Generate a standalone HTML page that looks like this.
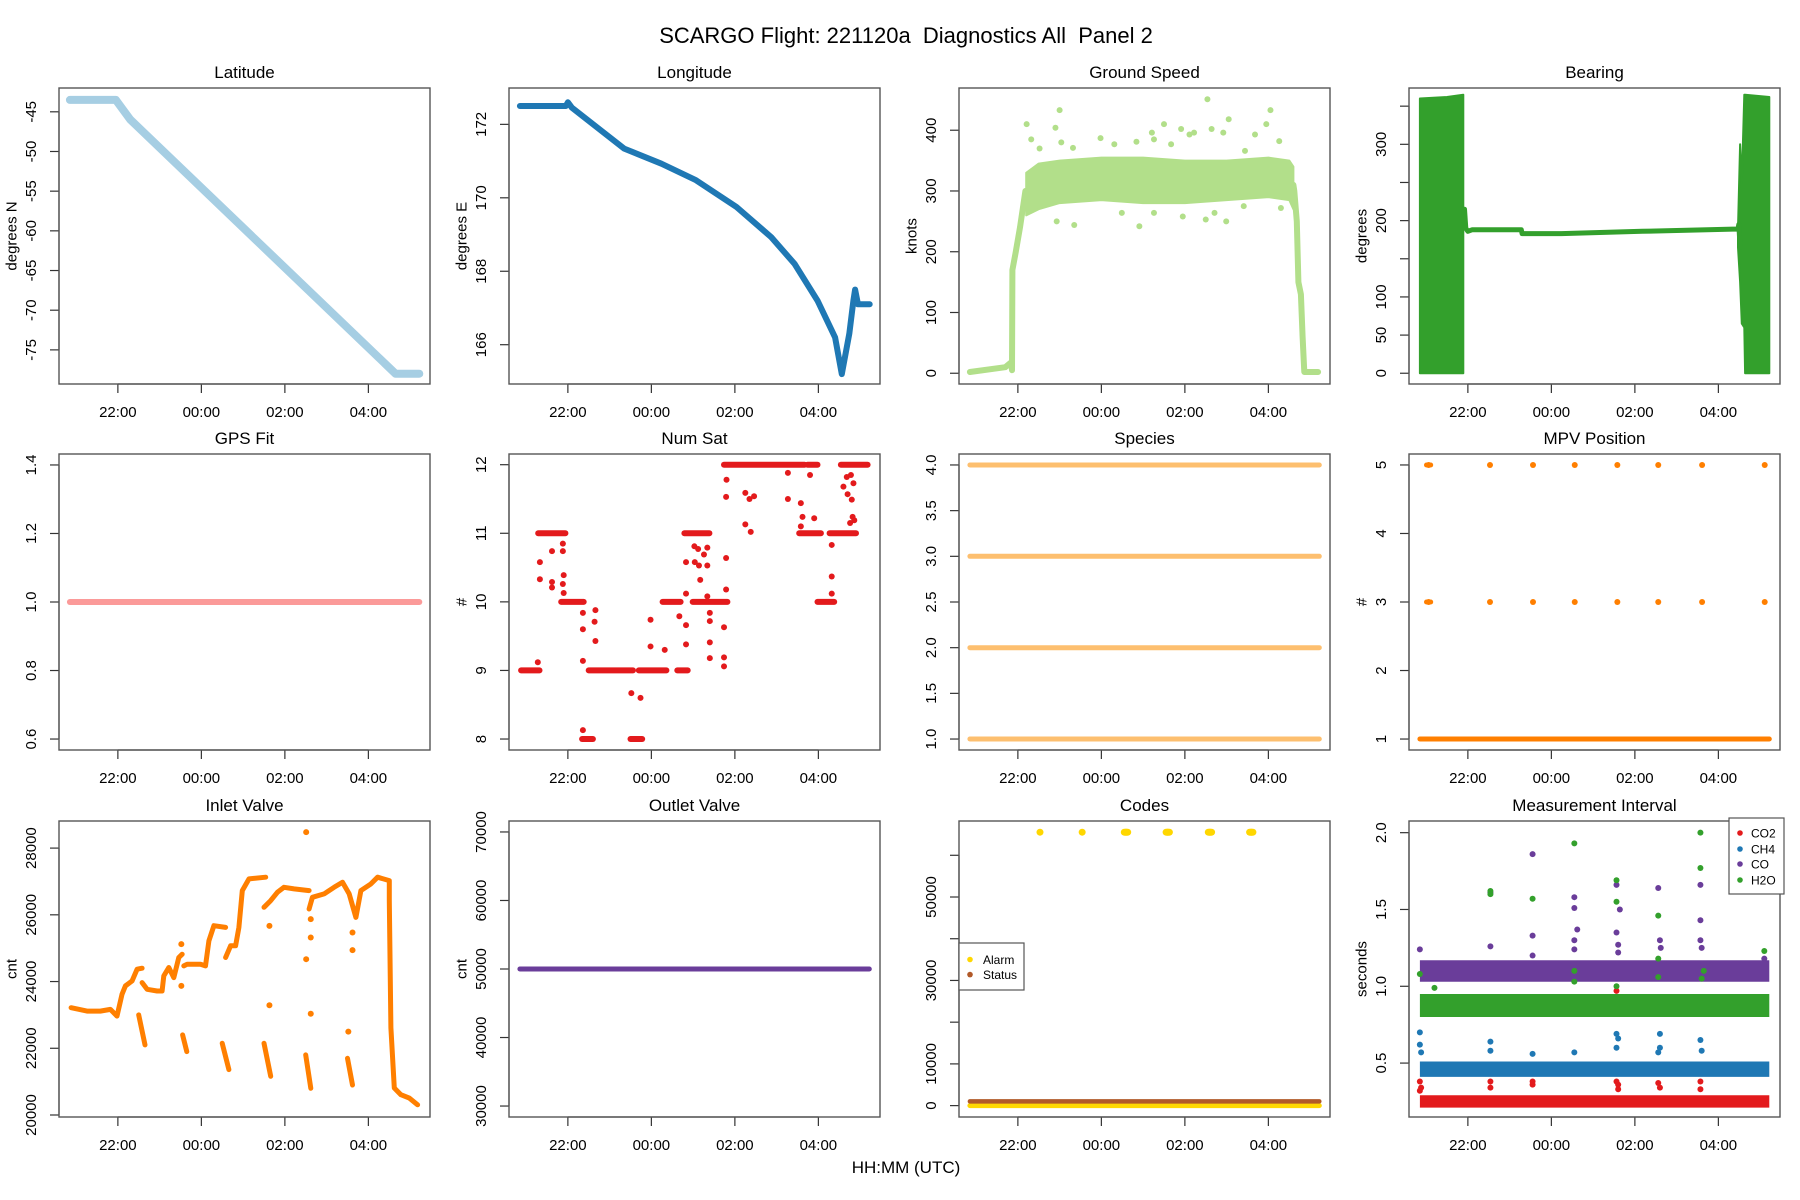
<!DOCTYPE html>
<html><head><meta charset="utf-8"><title>SCARGO Flight 221120a Diagnostics All Panel 2</title>
<style>
html,body{margin:0;padding:0;background:#fff;}
svg{display:block;font-family:"Liberation Sans",Arial,sans-serif;}
</style></head>
<body>
<svg id="chart" xmlns="http://www.w3.org/2000/svg" width="1800" height="1200" viewBox="0 0 1800 1200">
<rect width="1800" height="1200" fill="#fff"/>
<text x="906" y="43" font-size="22" text-anchor="middle" style="white-space:pre">SCARGO Flight: 221120a  Diagnostics All  Panel 2</text>
<text x="906" y="1173" font-size="17" text-anchor="middle">HH:MM (UTC)</text>
</svg>
<script>
// ---- shared time axis (hours relative to 00:00 UTC) ----
const timeTicks = [-2, 0, 2, 4];
const timeTickLabels = ["22:00", "00:00", "02:00", "04:00"];

// ---- Latitude ----
const latT = [-3.15, -2.05, -1.7, 4.65, 5.22];
const latV = [-43.5, -43.5, -46, -78, -78];
// ---- Longitude ----
const lonT = [-3.15, -2.05, -2.0, -1.9, -0.65, 0.24, 1.07, 2.04, 2.87, 3.43, 3.98, 4.40, 4.56, 4.74, 4.84, 4.88, 4.95, 5.23];
const lonV = [172.5, 172.5, 172.6, 172.45, 171.34, 170.93, 170.48, 169.75, 168.93, 168.2, 167.2, 166.2, 165.2, 166.3, 167.2, 167.5, 167.1, 167.1];
// ---- Ground speed ----
const gsLineT = [-3.15, -2.3, -2.16, -2.14, -2.13, -2.05, -1.95, -1.82];
const gsLineV = [2, 10, 18, 5, 170, 200, 240, 300];
const gsEndT = [4.6, 4.62, 4.68, 4.72, 4.78, 4.82, 4.86, 5.19];
const gsEndV = [310, 300, 250, 150, 130, 60, 2, 2];
const gsBandT = [-1.8, -1.5, -1, 0, 1, 2, 3, 4, 4.5, 4.6];
const gsBandLo = [260, 270, 280, 285, 280, 280, 285, 290, 285, 270];
const gsBandHi = [330, 345, 350, 355, 355, 350, 350, 355, 350, 340];
const gsOutT = [-1.79, -1.68, -1.48, -1.10, -1.0, -0.96, -0.68, -0.02, 0.31, 0.84, 1.21, 1.26, 1.50, 1.67, 1.91, 2.11, 2.22, 2.54, 2.64, 2.92, 3.05, 3.44, 3.68, 3.95, 4.05, 4.26, -1.07, -0.65, 0.49, 0.91, 1.26, 1.95, 2.50, 2.71, 2.99, 3.41, 4.30];
const gsOutV = [410, 385, 370, 404, 433, 380, 371, 387, 377, 381, 396, 385, 410, 377, 402, 393, 396, 451, 402, 396, 418, 366, 393, 410, 433, 382, 250, 244, 264, 242, 264, 258, 253, 264, 250, 275, 272];
// ---- Bearing ----
const brNoiseT = [-3.15, -2.5, -2.11];
const brNoiseLo = [0, 0, 0];
const brNoiseHi = [360, 362, 365];
const brNoise2T = [4.47, 4.52, 4.56, 4.62, 4.64, 5.22];
const brNoise2Lo = [165, 120, 65, 60, 0, 0];
const brNoise2Hi = [190, 300, 250, 365, 365, 362];
const brLineT = [-2.11, -2.08, -2.05, -2.0, -1.9, -0.72, -0.70, 0.24, 2.18, 4.47, 4.49, 4.52];
const brLineV = [200, 215, 190, 186, 188, 188, 183, 183, 186, 189, 195, 165];
// ---- GPS fit ----
const gpsT = [-3.15, 5.22];
const gpsV = [1.0, 1.0];
// ---- Num Sat ----
const nsStart = [-3.12, -2.71, -2.16, -1.66, -1.50, -0.50, -0.30, 0.27, 0.62, 0.79, 0.99, 1.74, 3.54, 3.74, 3.98, 4.27, 4.54];
const nsEnd = [-2.68, -2.06, -1.62, -1.40, -0.44, -0.22, 0.36, 0.70, 0.87, 1.39, 1.82, 3.67, 4.06, 3.98, 4.38, 4.90, 5.18];
const nsVal = [9, 11, 10, 8, 9, 8, 9, 10, 9, 11, 10, 12, 11, 12, 10, 11, 12];
const nsPtT = [-2.72, -2.67, -2.67, -2.38, -2.38, -2.38, -2.12, -2.12, -2.10, -2.12, -2.10, -1.64, -1.64, -1.64, -1.64, -1.34, -1.36, -1.34, -0.48, -0.26, -0.02, -0.02, 0.32, 0.67, 0.83, 0.83, 0.83, 0.83, 1.03, 1.12, 1.04, 1.14, 1.17, 1.26, 1.34, 1.34, 1.34, 1.40, 1.40, 1.40, 1.40, 1.74, 1.74, 1.74, 1.79, 1.79, 1.79, 1.80, 2.25, 2.35, 2.46, 2.25, 2.38, 3.27, 3.27, 3.58, 3.62, 3.58, 3.80, 3.90, 4.32, 4.32, 4.32, 4.60, 4.70, 4.68, 4.78, 4.84, 4.80, 4.82, 4.86, 4.76];
const nsPtV = [9.12, 10.58, 10.33, 10.74, 10.29, 10.21, 10.85, 10.74, 10.39, 10.26, 10.13, 9.84, 9.6, 9.14, 8.13, 9.88, 9.71, 9.43, 8.67, 8.6, 9.74, 9.35, 9.3, 9.79, 10.58, 10.12, 9.66, 9.38, 10.81, 10.77, 10.58, 10.53, 10.32, 10.69, 10.79, 10.53, 10.08, 9.84, 9.72, 9.41, 9.18, 9.63, 9.19, 9.06, 10.18, 10.64, 11.53, 11.78, 11.59, 11.5, 11.54, 11.13, 11.02, 11.88, 11.5, 11.44, 11.24, 11.1, 11.85, 11.22, 10.83, 10.37, 10.12, 11.68, 11.57, 11.82, 11.85, 11.73, 11.49, 11.24, 11.19, 11.15];
// ---- Species ----
const speciesVals = [1, 2, 3, 4];
// ---- MPV position ----
const mpvT = [-2.94, -1.47, -0.44, 0.56, 1.58, 2.56, 3.61, 5.11];
const mpvHigh = [5, 3];
const mpvBase = 1;
// ---- Inlet valve ----
const inT = [-3.12, -2.74, -2.42, -2.18, -2.02, -1.90, -1.82, -1.66, -1.54, -1.42, null, -1.42, -1.30, -1.06, -0.94, -0.90, -0.78, -0.66, -0.54, -0.46, null, -0.42, -0.34, -0.02, 0.10, 0.18, 0.30, 0.58, null, 0.58, 0.70, 0.82, 0.90, 0.98, 1.14, 1.54, null, 1.50, 1.66, 1.82, 1.98, 2.22, 2.58, null, 2.58, 2.66, 2.94, 3.18, 3.38, 3.54, 3.70, 3.82, 4.06, 4.22, 4.50, 4.50, 4.54, 4.62, 4.78, 4.98, 5.18];
const inV = [23216, 23115, 23115, 23165, 22965, 23617, 23868, 24018, 24370, 24400, null, 23968, 23767, 23717, 23717, 24169, 24420, 24119, 24720, 24820, null, 24470, 24520, 24520, 24470, 25222, 25673, 25623, null, 24720, 25071, 25071, 25623, 26726, 27077, 27127, null, 26225, 26425, 26676, 26826, 26776, 26726, null, 26174, 26525, 26626, 26826, 26977, 26626, 25924, 26726, 26927, 27127, 27027, 26425, 22614, 20808, 20608, 20507, 20307];
const inDropT1 = [-1.50, -0.45, 0.50, 1.50, 2.50, 3.50];
const inDropT2 = [-1.35, -0.35, 0.66, 1.66, 2.62, 3.62];
const inDropV1 = [23000, 22400, 22150, 22150, 21800, 21700];
const inDropV2 = [22100, 21900, 21360, 21160, 20800, 20900];
const inPtT = [2.51, 1.63, 2.62, 3.52, 3.62, 3.62, 2.62, 2.62, 2.51, 1.63, -0.48, -0.48];
const inPtV = [28480, 23290, 23035, 22500, 24940, 25470, 25870, 25320, 24670, 25670, 25120, 23870];
// ---- Outlet valve ----
const outT = [-3.15, 5.22];
const outV = [50000, 50000];
// ---- Codes ----
const alarmT = [-1.47, -0.46, 0.59, 1.59, 2.60, 3.59];
const alarmHigh = 65535;
const alarmBase = 0;
const statusBase = 1000;
// ---- Measurement interval ----
const miSeries = ["CO2", "CH4", "CO", "H2O"];
const miLo = [0.21, 0.41, 1.03, 0.80];
const miHi = [0.29, 0.51, 1.17, 0.95];
const co2OutT = [-3.15, -3.12, -3.15, -1.46, -1.46, -0.45, -0.45, 1.56, 1.6, 1.6, 2.56, 2.6, 3.57, 3.57, 1.56];
const co2OutV = [0.38, 0.34, 0.32, 0.38, 0.34, 0.38, 0.36, 0.38, 0.33, 0.36, 0.37, 0.34, 0.38, 0.33, 0.97];
const ch4OutT = [-3.15, -3.15, -3.12, -1.46, -1.46, -0.45, 0.55, 1.56, 1.6, 1.56, 2.6, 2.6, 2.56, 3.57, 3.6];
const ch4OutV = [0.7, 0.62, 0.57, 0.64, 0.58, 0.56, 0.57, 0.69, 0.66, 0.6, 0.69, 0.6, 0.57, 0.65, 0.58];
const coOutT = [-0.45, -1.46, 0.55, 0.55, 1.56, 1.64, 2.56, 3.57, 3.57, -3.15, -1.46, -0.45, -0.45, 0.55, 0.55, 0.62, 1.56, 1.6, 1.6, 2.6, 2.62, 3.57, 3.6, 5.1];
const coOutV = [1.86, 1.61, 1.58, 1.51, 1.66, 1.5, 1.64, 1.66, 1.43, 1.24, 1.26, 1.33, 1.2, 1.3, 1.24, 1.37, 1.35, 1.27, 1.22, 1.3, 1.25, 1.3, 1.25, 1.18];
const h2oOutT = [3.57, 0.55, -1.46, -0.45, 1.56, 1.56, 2.56, 3.57, -3.15, -2.8, 0.55, 0.55, 2.56, 2.56, 3.6, 3.65, 5.1, -1.46, 1.56];
const h2oOutV = [2.0, 1.93, 1.62, 1.57, 1.69, 1.55, 1.46, 1.77, 1.08, 0.99, 1.1, 1.03, 1.18, 1.06, 1.05, 1.1, 1.23, 1.6, 1.0];

// ---- layout ----
const NS = "http://www.w3.org/2000/svg";
const svg = document.getElementById("chart");
const cols = [59, 509, 959, 1409], rows = [88, 454, 821], PW = 371, PH = 296;
const XMIN = -3.41, XMAX = 5.476;

function mk(tag, attrs, parent) {
  const e = document.createElementNS(NS, tag);
  for (const k in attrs) e.setAttribute(k, attrs[k]);
  (parent || svg).appendChild(e);
  return e;
}

function panel(ci, ri, name, title, ylim, yticks, ylabels, ylab) {
  const L = cols[ci], T = rows[ri];
  const g = mk("g", {});
  
  
  const x = t => L + (t - XMIN) / (XMAX - XMIN) * PW;
  const y = v => T + PH - (v - ylim[0]) / (ylim[1] - ylim[0]) * PH;
  const tt = mk("text", {x: L + PW / 2, y: T - 10, "font-size": 17, "text-anchor": "middle"}, g);
  tt.textContent = title;
  
  
  const xa = mk("g", {}, g);
  
  
  mk("line", {x1: x(timeTicks[0]), x2: x(timeTicks[timeTicks.length - 1]), y1: T + PH, y2: T + PH, stroke: "#333", "stroke-width": 1.2}, xa);
  timeTicks.forEach((t, i) => {
    mk("line", {x1: x(t), x2: x(t), y1: T + PH, y2: T + PH + 9, stroke: "#333", "stroke-width": 1.2}, xa);
    const lb = mk("text", {x: x(t), y: T + PH + 33, "font-size": 15, "text-anchor": "middle"}, xa);
    lb.textContent = timeTickLabels[i];
    
    
  });
  const ya = mk("g", {}, g);
  
  
  mk("line", {x1: L, x2: L, y1: y(yticks[0]), y2: y(yticks[yticks.length - 1]), stroke: "#333", "stroke-width": 1.2}, ya);
  yticks.forEach((v, i) => {
    mk("line", {x1: L - 9, x2: L, y1: y(v), y2: y(v), stroke: "#333", "stroke-width": 1.2}, ya);
    if (ylabels[i] !== "") {
      const lb = mk("text", {x: L - 23, y: y(v), "font-size": 15, "text-anchor": "middle", transform: `rotate(-90 ${L - 23} ${y(v)})`}, ya);
      lb.textContent = ylabels[i];
      
      
    }
  });
  if (ylab) {
    const cy = T + PH / 2;
    const yl = mk("text", {x: L - 47, y: cy, "font-size": 15, "text-anchor": "middle", "dominant-baseline": "central", transform: `rotate(-90 ${L - 47} ${cy})`}, g);
    yl.textContent = ylab;
    
    
  }
  const data = mk("g", {}, g);
  
  
  const box = mk("rect", {x: L, y: T, width: PW, height: PH, fill: "none", stroke: "#555", "stroke-width": 1.4}, g);
  
  
  return {x, y, g: data};
}

function line(p, ts, vs, color, w, nm) {
  let d = "", pen = false;
  ts.forEach((t, i) => {
    if (t === null || vs[i] === null) { pen = false; return; }
    d += (pen ? "L" : "M") + p.x(t).toFixed(1) + "," + p.y(vs[i]).toFixed(1);
    pen = true;
  });
  const e = mk("path", {d, fill: "none", stroke: color, "stroke-width": w, "stroke-linejoin": "round", "stroke-linecap": "round"}, p.g);
  
  
  return e;
}
function pts(p, ts, vs, color, r, nm) {
  ts.forEach((t, i) => {
    const c = mk("circle", {cx: p.x(t), cy: p.y(vs[i]), r, fill: color}, p.g);
    
    
  });
}
function band(p, ts, lo, hi, color, nm, sw) {
  let d = "";
  ts.forEach((t, i) => { d += (i ? "L" : "M") + p.x(t).toFixed(1) + "," + p.y(hi[i]).toFixed(1); });
  for (let i = ts.length - 1; i >= 0; i--) d += "L" + p.x(ts[i]).toFixed(1) + "," + p.y(lo[i]).toFixed(1);
  const e = mk("path", {d: d + "Z", fill: color, stroke: color, "stroke-width": sw, "stroke-linejoin": "round"}, p.g);
  
  
}
const range = (a, b, s) => { const r = []; for (let v = a; v <= b + 1e-9; v += s) r.push(+v.toFixed(4)); return r; };
const TSPAN = [-3.15, 5.22];

let p = panel(0, 0, "latitude", "Latitude", [-79.3, -42.0], range(-75, -45, 5), range(-75, -45, 5).map(String), "degrees N");
line(p, latT, latV, "#A6CEE3", 8, "latitude-line");
p = panel(1, 0, "longitude", "Longitude", [164.93, 172.99], range(166, 172, 2), range(166, 172, 2).map(String), "degrees E");
line(p, lonT, lonV, "#1F78B4", 6, "longitude-line");
p = panel(2, 0, "ground-speed", "Ground Speed", [-17.7, 469.5], range(0, 400, 100), range(0, 400, 100).map(String), "knots");
band(p, gsBandT, gsBandLo, gsBandHi, "#B2DF8A", "ground-speed-band", 2);
line(p, gsLineT, gsLineV, "#B2DF8A", 6, "ground-speed-climb");
line(p, gsEndT, gsEndV, "#B2DF8A", 6, "ground-speed-descent");
pts(p, gsOutT, gsOutV, "#B2DF8A", 3, "ground-speed-point");
p = panel(3, 0, "bearing", "Bearing", [-14.1, 373.8], range(0, 350, 50), ["0", "50", "100", "", "200", "", "300", ""], "degrees");
band(p, brNoiseT, brNoiseLo, brNoiseHi, "#33A02C", "bearing-noise-start", 2);
band(p, brNoise2T, brNoise2Lo, brNoise2Hi, "#33A02C", "bearing-noise-end", 2);
line(p, brLineT, brLineV, "#33A02C", 5, "bearing-line");
p = panel(0, 1, "gps-fit", "GPS Fit", [0.568, 1.432], range(0.6, 1.4, 0.2), ["0.6", "0.8", "1.0", "1.2", "1.4"], "");
line(p, gpsT, gpsV, "#FB9A99", 6, "gps-fit-line");
p = panel(1, 1, "num-sat", "Num Sat", [7.84, 12.156], range(8, 12, 1), range(8, 12, 1).map(String), "#");
nsStart.forEach((s, i) => line(p, [s, nsEnd[i]], [nsVal[i], nsVal[i]], "#E31A1C", 6, "num-sat-run"));
pts(p, nsPtT, nsPtV, "#E31A1C", 3, "num-sat-point");
p = panel(2, 1, "species", "Species", [0.88, 4.12], range(1, 4, 0.5), range(1, 4, 0.5).map(v => v.toFixed(1)), "");
speciesVals.forEach(v => line(p, TSPAN, [v, v], "#FDBF6F", 5, "species-line"));
p = panel(3, 1, "mpv-position", "MPV Position", [0.84, 5.16], range(1, 5, 1), range(1, 5, 1).map(String), "#");
line(p, TSPAN, [mpvBase, mpvBase], "#FF7F00", 5, "mpv-base-line");
mpvHigh.forEach(v => pts(p, mpvT, mpvT.map(() => v), "#FF7F00", 3, "mpv-point"));
line(p, [mpvT[0] - 0.05, mpvT[0] + 0.05], [5, 5], "#FF7F00", 5, "mpv-start-run");
line(p, [mpvT[0] - 0.05, mpvT[0] + 0.05], [3, 3], "#FF7F00", 5, "mpv-start-run");
p = panel(0, 2, "inlet-valve", "Inlet Valve", [19940, 28812], range(20000, 28000, 2000), range(20000, 28000, 2000).map(String), "cnt");
line(p, inT, inV, "#FF7F00", 5, "inlet-valve-line");
inDropT1.forEach((t, i) => line(p, [t, inDropT2[i]], [inDropV1[i], inDropV2[i]], "#FF7F00", 5, "inlet-valve-drop"));
pts(p, inPtT, inPtV, "#FF7F00", 3, "inlet-valve-point");
p = panel(1, 2, "outlet-valve", "Outlet Valve", [28400, 71600], range(30000, 70000, 10000), range(30000, 70000, 10000).map(String), "cnt");
line(p, outT, outV, "#6A3D9A", 5, "outlet-valve-line");
p = panel(2, 2, "codes", "Codes", [-2729, 68218], range(0, 60000, 10000), ["0", "10000", "", "30000", "", "50000", ""], "");
line(p, TSPAN, [alarmBase, alarmBase], "#FFD700", 5, "alarm-line");
line(p, TSPAN, [statusBase, statusBase], "#B15928", 4.5, "status-line");
pts(p, alarmT, alarmT.map(() => alarmHigh), "#FFD700", 3.5, "alarm-point");
alarmT.slice(2).forEach(t => line(p, [t - 0.04, t + 0.04], [alarmHigh, alarmHigh], "#FFD700", 7, "alarm-run"));
{
  const lg = mk("g", {});
  
  
  mk("rect", {x: 959, y: 943, width: 65, height: 47, fill: "#fff", stroke: "#555", "stroke-width": 1.2}, lg);
  [["Alarm", "#FFD700", 959.5], ["Status", "#B15928", 974.6]].forEach(([n, c, yy]) => {
    const en = mk("g", {}, lg);
    
    
    mk("circle", {cx: 970, cy: yy, r: 2.8, fill: c}, en);
    const tx = mk("text", {x: 983, y: yy + 4.5, "font-size": 12}, en);
    tx.textContent = n;
  });
}
p = panel(3, 2, "measurement-interval", "Measurement Interval", [0.149, 2.076], range(0.5, 2.0, 0.5), ["0.5", "1.0", "1.5", "2.0"], "seconds");
const miColors = ["#E31A1C", "#1F78B4", "#6A3D9A", "#33A02C"];
miSeries.forEach((s, i) => band(p, TSPAN, [miLo[i], miLo[i]], [miHi[i], miHi[i]], miColors[i], "mi-band-" + s.toLowerCase(), 0));
pts(p, co2OutT, co2OutV, miColors[0], 3, "mi-point-co2");
pts(p, ch4OutT, ch4OutV, miColors[1], 3, "mi-point-ch4");
pts(p, coOutT, coOutV, miColors[2], 3, "mi-point-co");
pts(p, h2oOutT, h2oOutV, miColors[3], 3, "mi-point-h2o");
{
  const lg = mk("g", {});
  
  
  mk("rect", {x: 1729, y: 818, width: 55, height: 76, fill: "#fff", stroke: "#555", "stroke-width": 1.2}, lg);
  const ys = [833, 849, 864, 880];
  miSeries.forEach((n, i) => {
    const en = mk("g", {}, lg);
    
    
    mk("circle", {cx: 1740, cy: ys[i], r: 2.8, fill: miColors[i]}, en);
    const tx = mk("text", {x: 1751, y: ys[i] + 4.5, "font-size": 12}, en);
    tx.textContent = n;
  });
}
</script>
</body></html>
